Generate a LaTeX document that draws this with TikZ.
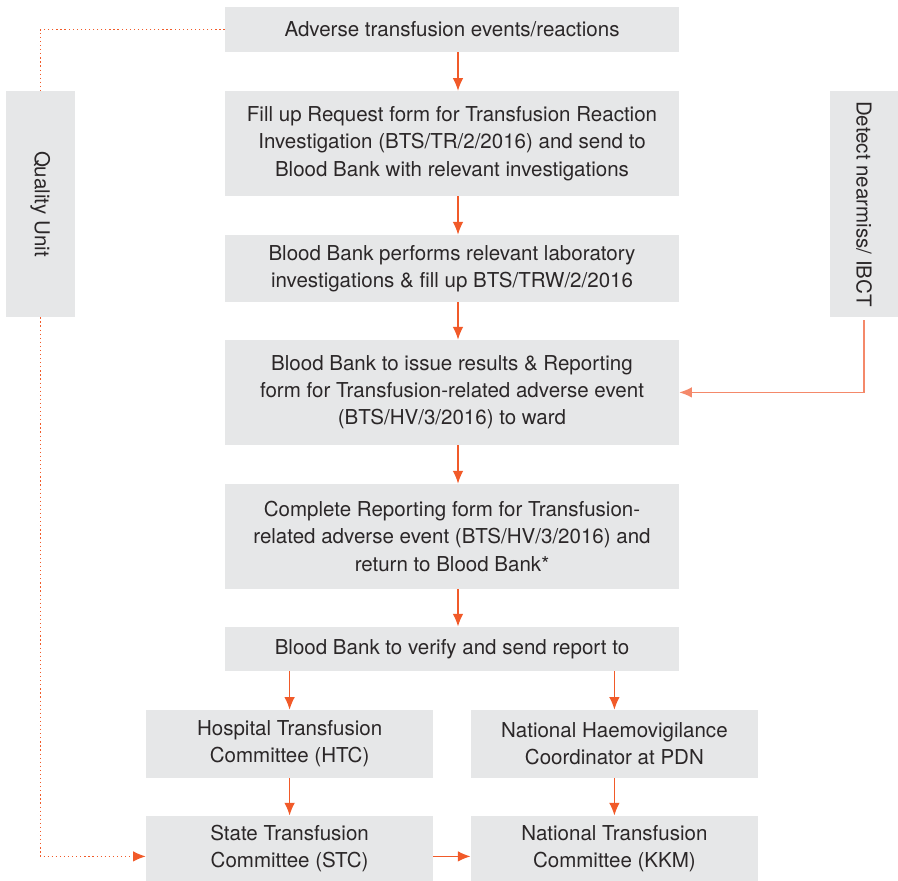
\documentclass[tikz,border=0pt]{standalone}
\usepackage{fontspec}
\setmainfont{TeX Gyre Heros}
\usetikzlibrary{positioning,arrows.meta,calc}

\definecolor{boxgray}{HTML}{E6E7E8}
\definecolor{flow}{HTML}{F15A29}
\definecolor{flowlight}{HTML}{F4896A}
\definecolor{txt}{HTML}{2B2728}

\tikzset{
  stepbox/.style={fill=boxgray,text=txt,align=center,inner sep=0pt,
    font=\fontsize{14.6}{19.3}\selectfont},
  flowarrow/.style={->,draw=flow,line width=0.9pt},
  sidebox/.style={stepbox,minimum width=1.72cm,minimum height=5.65cm}
}

\begin{document}
\begin{tikzpicture}[>={Latex[length=9pt,width=7.5pt]}]
  \useasboundingbox (0,0) rectangle (22.45,-22.025);
  % main column
  \node[stepbox,minimum width=11.35cm,minimum height=1.125cm] (ev) at (11.3,-0.74)
    {Adverse transfusion events/reactions};
  \node[stepbox,minimum width=11.35cm,minimum height=2.625cm] (req) at (11.3,-3.59)
    {Fill up Request form for Transfusion Reaction\\Investigation (BTS/TR/2/2016) and send to\\Blood Bank with relevant investigations};
  \node[stepbox,minimum width=11.35cm,minimum height=1.675cm] (lab) at (11.3,-6.71)
    {Blood Bank performs relevant laboratory\\investigations \& fill up BTS/TRW/2/2016};
  \node[stepbox,minimum width=11.35cm,minimum height=2.625cm] (res) at (11.3,-9.81)
    {Blood Bank to issue results \& Reporting\\form for Transfusion-related adverse event\\(BTS/HV/3/2016) to ward};
  \node[stepbox,minimum width=11.35cm,minimum height=2.625cm] (rep) at (11.3,-13.41)
    {Complete Reporting form for Transfusion-\\related adverse event (BTS/HV/3/2016) and\\return to Blood Bank*};
  \node[stepbox,minimum width=11.35cm,minimum height=1.1cm] (ver) at (11.3,-16.22)
    {Blood Bank to verify and send report to};
  % committees
  \node[stepbox,minimum width=7.18cm,minimum height=1.7cm] (htc) at (7.24,-18.6)
    {Hospital Transfusion\\Committee (HTC)};
  \node[stepbox,minimum width=7.18cm,minimum height=1.7cm] (nhc) at (15.36,-18.6)
    {National Haemovigilance\\Coordinator at PDN};
  \node[stepbox,minimum width=7.18cm,minimum height=1.63cm] (stc) at (7.24,-21.21)
    {State Transfusion\\Committee (STC)};
  \node[stepbox,minimum width=7.18cm,minimum height=1.63cm] (kkm) at (15.36,-21.21)
    {National Transfusion\\Committee (KKM)};
  % side boxes
  \node[sidebox] (qu) at (1.01,-5.1) {};
  \node[rotate=-90,text=txt,font=\fontsize{14.6}{19.3}\selectfont] at (qu) {Quality Unit};
  \node[sidebox,minimum width=1.7cm] (det) at (21.6,-5.1) {};
  \node[rotate=-90,text=txt,font=\fontsize{14.6}{19.3}\selectfont] at (det) {Detect nearmiss/ IBCT};

  \foreach \a/\b in {ev/req,req/lab,lab/res,res/rep,rep/ver}
    \draw[flowarrow] ([xshift=0.15cm]\a.south) -- ([xshift=0.15cm]\b.north);
  \draw[flowarrow] (ver.south -| htc) -- (htc);
  \draw[flowarrow] (ver.south -| nhc) -- (nhc);
  \draw[flowarrow] (htc) -- (stc);
  \draw[flowarrow] (nhc) -- (kkm);
  \draw[flowarrow] ($(stc.east)+(0,-0.2)$) -- ($(kkm.west)+(0,-0.2)$);
  \draw[->,draw=flowlight,line width=0.9pt] ([yshift=-0.07cm]det.south) |- (res.east);
  \draw[draw=flow,dotted,line width=0.9pt] (ev.west) -| (qu.north);
  \draw[->,draw=flow,dotted,line width=0.9pt] (qu.south) |- ($(stc.west)+(0,-0.2)$);
\end{tikzpicture}
\end{document}
